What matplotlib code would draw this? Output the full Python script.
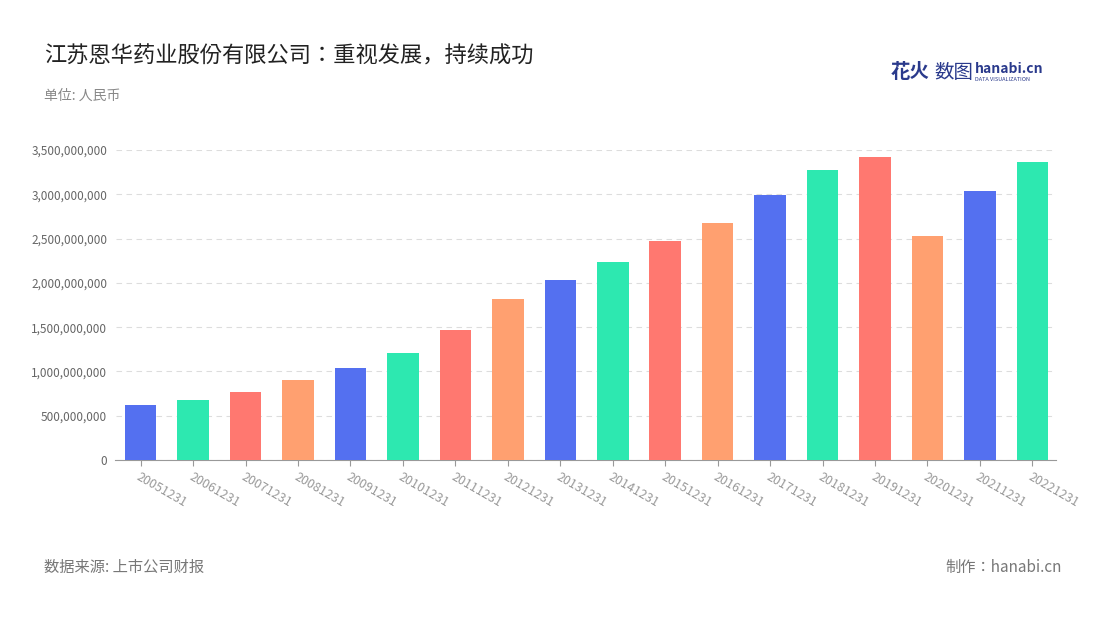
import matplotlib
matplotlib.use("Agg")
import matplotlib.pyplot as plt
from matplotlib import font_manager as fm
from matplotlib.ticker import FuncFormatter

cjk = None
for f in fm.fontManager.ttflist:
    if "CJK" in f.name and "SC" in f.name:
        cjk = f.name
        break
if cjk is None:
    for f in fm.fontManager.ttflist:
        if "CJK" in f.name or "CJK" in f.fname:
            cjk = f.name
            break
if cjk is None:
    import glob
    files = glob.glob("/usr/share/fonts/**/*CJK*", recursive=True)
    if files:
        fm.fontManager.addfont(files[0])
        cjk = fm.FontProperties(fname=files[0]).get_name()
plt.rcParams["font.family"] = [cjk or "DejaVu Sans", "DejaVu Sans"]

categories = ["20051231","20061231","20071231","20081231","20091231","20101231","20111231",
              "20121231","20131231","20141231","20151231","20161231","20171231","20181231",
              "20191231","20201231","20211231","20221231"]
values = [620e6, 677e6, 768e6, 903e6, 1039e6, 1208e6, 1468e6, 1818e6, 2032e6, 2235e6,
          2473e6, 2676e6, 2992e6, 3274e6, 3421e6, 2529e6, 3037e6, 3365e6]
palette = ["#5470f0", "#2de8b0", "#ff7870", "#ffa070"]

fig = plt.figure(figsize=(11, 6.2), dpi=100)
ax = fig.add_axes([0.105, 0.258, 0.855, 0.5])
colors = [palette[i % 4] for i in range(len(values))]
x = range(len(values))
ax.bar(x, values, width=0.6, color=colors, zorder=3)
ax.set_xlim(-0.48, len(values) - 0.55)
ax.set_ylim(0, 3.5e9)
ax.set_yticks([i * 5e8 for i in range(8)])
ax.yaxis.set_major_formatter(FuncFormatter(lambda v, p: f"{int(v):,}"))
ax.grid(axis="y", color="#dddddd", linestyle=(0, (5, 4)), linewidth=0.8, zorder=0)
ax.set_xticks(list(x))
ax.set_xticklabels(categories, rotation=-30, ha="left", rotation_mode="anchor",
                   fontsize=9, color="#999999")
ax.tick_params(axis="y", length=0, labelsize=8.5, labelcolor="#666666", pad=6)
ax.tick_params(axis="x", length=4, color="#999999")
for s in ["top", "right", "left"]:
    ax.spines[s].set_visible(False)
ax.spines["bottom"].set_color("#999999")

fig.text(0.04, 0.91, "江苏恩华药业股份有限公司：重视发展，持续成功", fontsize=16, color="#222222", va="center")
fig.text(0.04, 0.845, "单位: 人民币", fontsize=10, color="#888888", va="center")
fig.text(0.04, 0.085, "数据来源: 上市公司财报", fontsize=11, color="#777777", va="center")
fig.text(0.965, 0.085, "制作：hanabi.cn", fontsize=11, color="#777777", va="center", ha="right")
fig.text(0.81, 0.883, "花火", fontsize=14, color="#2a3a8c", weight="bold", va="center")
fig.text(0.849, 0.883, "数图", fontsize=14, color="#2a3a8c", va="center")
fig.text(0.886, 0.888, "hanabi.cn", fontsize=10, color="#2a3a8c", weight="bold", va="center")
fig.text(0.886, 0.872, "DATA VISUALIZATION", fontsize=4, color="#2a3a8c", va="center")

fig.savefig("out.png", dpi=100)
